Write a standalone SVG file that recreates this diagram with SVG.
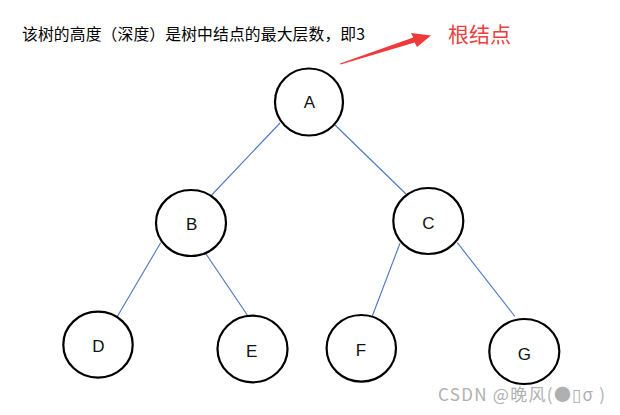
<svg xmlns="http://www.w3.org/2000/svg" width="620" height="415" viewBox="0 0 620 415">
<style>
.node ellipse{fill:#fff;stroke:#000;stroke-width:2.2}
.node text{font-family:"Liberation Sans","Noto Sans",sans-serif;font-size:17px;fill:#111;text-anchor:middle}
.edges line{stroke:#4a76c0;stroke-width:1.1}
.cjk{font-family:"Noto Sans CJK SC","Liberation Sans",sans-serif}
</style>
<rect width="620" height="415" fill="#fff"/>
<text class="cjk" x="22" y="40" font-size="15.8" fill="#000" textLength="343" lengthAdjust="spacing">该树的高度（深度）是树中结点的最大层数，即3</text>
<text class="cjk" x="448" y="42" font-size="21" fill="#e8403e">根结点</text>
<polygon points="340,63.5 413.3,37.6 411,33 431,35.5 417,47 414.7,42.4 340.5,64.5" fill="#ee3a38"/>
<g class="edges">
<line x1="280" y1="123" x2="211.7" y2="195"/>
<line x1="335" y1="125" x2="406" y2="194"/>
<line x1="160.7" y1="242.7" x2="117" y2="317"/>
<line x1="206" y1="254" x2="248.3" y2="316.5"/>
<line x1="400" y1="243.3" x2="372.3" y2="316"/>
<line x1="457.3" y1="242.7" x2="515" y2="316.5"/>
</g>
<g id="A" class="node"><ellipse cx="309" cy="102" rx="34" ry="33.5"/><text x="309.3" y="108">A</text></g>
<g id="B" class="node"><ellipse cx="191" cy="223" rx="35" ry="33"/><text x="191.7" y="229.5">B</text></g>
<g id="C" class="node"><ellipse cx="428.3" cy="221" rx="35" ry="33"/><text x="428.3" y="229">C</text></g>
<g id="D" class="node"><ellipse cx="98" cy="344.7" rx="34.7" ry="33"/><text x="98.3" y="352.3">D</text></g>
<g id="E" class="node"><ellipse cx="252.5" cy="349" rx="35" ry="33.3"/><text x="251.7" y="357">E</text></g>
<g id="F" class="node"><ellipse cx="361.3" cy="348.3" rx="34.7" ry="33.3"/><text x="361" y="355.6">F</text></g>
<g id="G" class="node"><ellipse cx="524.3" cy="351.5" rx="35" ry="32.5"/><text x="524.3" y="359.6">G</text></g>
<text class="cjk" x="438" y="401" font-size="17" fill="#b0b0b0" textLength="167" lengthAdjust="spacing">CSDN @晚风(●▯σ )</text>
</svg>
